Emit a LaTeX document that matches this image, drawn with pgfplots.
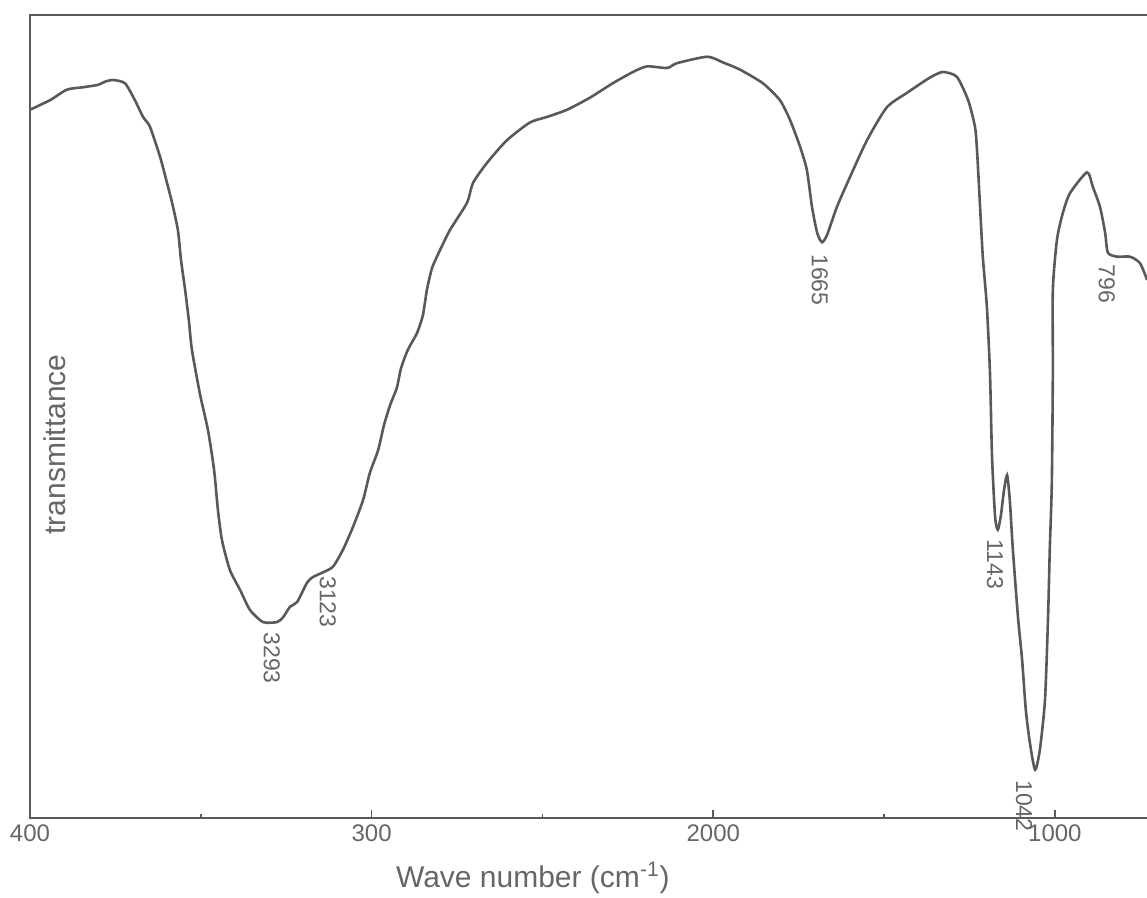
\documentclass[border=0pt]{standalone}
\usepackage{pgfplots}
\pgfplotsset{compat=1.18}
\usepackage{fontspec}
\setmainfont{Liberation Sans}
\definecolor{ink}{gray}{0.35}
\definecolor{txt}{gray}{0.4}
\pgfplotstableread{
wn T
4000 88.2
3941 89.4
3892 90.7
3845 91.0
3801 91.3
3780 91.7
3757 91.9
3722 91.5
3693 89.4
3669 87.3
3649 86.1
3619 82.3
3599 79.1
3584 76.6
3567 73.2
3558 69.5
3546 65.8
3535 62.0
3526 58.3
3502 52.7
3479 48.3
3461 43.3
3450 38.4
3438 34.6
3415 30.9
3385 28.4
3356 25.9
3318 24.4
3277 24.4
3259 25.0
3239 26.3
3218 26.9
3189 29.3
3172 30.0
3142 30.6
3113 31.3
3084 33.4
3055 36.2
3025 39.6
3005 43.0
2981 45.8
2964 48.9
2946 51.4
2926 53.6
2914 56.0
2894 58.3
2867 60.4
2850 62.6
2838 65.8
2823 68.5
2800 70.7
2771 73.2
2721 76.6
2703 79.1
2662 81.6
2604 84.4
2537 86.6
2487 87.3
2428 88.2
2361 89.7
2294 91.5
2235 92.9
2194 93.6
2135 93.4
2106 94.0
2018 94.8
1972 94.1
1922 93.2
1855 91.5
1805 89.4
1775 86.9
1746 83.6
1726 80.7
1711 76.1
1696 72.9
1682 71.7
1667 72.6
1638 76.1
1600 79.8
1550 84.4
1492 88.5
1433 90.3
1366 92.2
1328 92.9
1287 92.3
1254 89.4
1234 86.1
1228 83.2
1219 76.1
1211 69.9
1199 63.6
1190 55.4
1184 45.0
1175 37.5
1167 35.9
1158 37.7
1149 40.8
1140 42.7
1132 39.6
1123 33.4
1108 25.0
1096 19.7
1085 13.4
1073 9.3
1058 6.0
1044 8.5
1029 14.7
1020 25.0
1015 33.4
1009 41.7
1006 55.4
1006 65.8
994 72.0
977 75.3
956 77.8
906 80.4
889 78.6
868 76.1
853 72.9
845 70.4
818 69.9
780 69.9
751 69.1
730 67.0
}\spectrum
\begin{document}
\begin{tikzpicture}
\begin{axis}[
  scale only axis, width=563.7pt, height=401.5pt,
  x dir=reverse, xmin=700, xmax=4000, ymin=0, ymax=100,
  xtick={1000,2000,3000,4000}, xticklabels={1000,2000,300,400},
  minor xtick={1500,2500,3500},
  xtick pos=left,
  ytick=\empty,
  tick align=inside, major tick length=4pt, minor tick length=2pt,
  axis line style={ink, line width=1pt},
  every tick/.style={ink, line width=0.8pt},
  xticklabel style={font=\fontsize{12}{14}\selectfont, text=txt},
  clip=false,
]
\addplot[ink, line width=1.3pt, smooth, tension=0.4, mark=none] table[x=wn, y=T] {\spectrum};
\begin{scope}[every node/.style={rotate=-90, anchor=west, font=\fontsize{11.5}{13}\selectfont, text=txt, inner sep=1pt}]
\node at (axis cs:3292,23.4) {3293};
\node at (axis cs:3128,30.4) {3123};
\node at (axis cs:1688,70.5) {1665};
\node at (axis cs:1175,35.0) {1143};
\node at (axis cs:1090,5.0) {1042};
\node at (axis cs:848,69.2) {796};
\end{scope}
\node[rotate=90, font=\fontsize{15}{18}\selectfont, text=txt] at (axis cs:3927,46.5) {transmittance};
\node[font=\fontsize{15}{18}\selectfont, text=txt] at (axis cs:2528,0) [yshift=-30pt] {Wave number (cm\textsuperscript{-1})};
\end{axis}
\pgfresetboundingbox
\path[use as bounding box] (current axis.south west) ++(-15pt,-40pt) rectangle ++(573.5pt,449pt);
\end{tikzpicture}
\end{document}
